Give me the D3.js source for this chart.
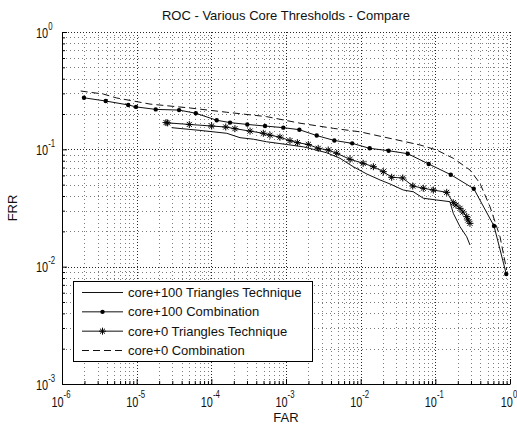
<!DOCTYPE html>
<html>
<head>
<meta charset="utf-8">
<script src="https://cdn.jsdelivr.net/npm/d3@7"></script>
<style>
  body { margin: 0; background: #fff; }
  text { font-family: "Liberation Sans", Arial, sans-serif; fill: #111; }
</style>
</head>
<body>
<div id="chart"></div>
<script>
"use strict";

// core+100 Triangles Technique (solid, no marker)
const far100Tri = [2.94e-5, 7.05e-5, 1.61e-4, 2.42e-4, 3.65e-4, 5.5e-4, 1.02e-3, 1.71e-3, 2.32e-3, 3.5e-3,
  5.28e-3, 7.96e-3, 0.0121, 0.0182, 0.0247, 0.0372, 0.0507, 0.069, 0.104, 0.157, 0.174, 0.214, 0.263, 0.291];
const frr100Tri = [0.153, 0.145, 0.137, 0.1257, 0.122, 0.116, 0.110, 0.105, 0.100, 0.0936,
  0.0839, 0.0711, 0.0616, 0.0548, 0.0507, 0.045, 0.0435, 0.0383, 0.037, 0.0358, 0.0285, 0.0219, 0.018, 0.0153];

// core+100 Combination (solid, dot marker)
const far100Comb = [1.97e-6, 3.85e-6, 7.7e-6, 9.8e-6, 1.8e-5, 3.7e-5, 6.2e-5, 1.18e-4, 1.78e-4, 3.03e-4,
  5.24e-4, 9.2e-4, 1.51e-3, 2.58e-3, 4.44e-3, 7.7e-3, 0.0132, 0.0237, 0.0427, 0.0815, 0.161, 0.327, 0.611, 0.891];
const frr100Comb = [0.275, 0.258, 0.239, 0.230, 0.219, 0.216, 0.203, 0.177, 0.169, 0.163,
  0.158, 0.153, 0.147, 0.131, 0.119, 0.1125, 0.102, 0.0973, 0.0918, 0.075, 0.0608, 0.0462, 0.0222, 0.00866];

// core+0 Triangles Technique (solid, asterisk marker)
const far0Tri = [2.47e-5, 2.6e-5, 5.07e-5, 1.01e-4, 1.56e-4, 2.07e-4, 3.3e-4, 4.97e-4, 6.1e-4, 8.3e-4,
  1.13e-3, 1.42e-3, 1.99e-3, 2.7e-3, 3.68e-3, 4.78e-3, 7.2e-3, 0.0108, 0.0148, 0.0201,
  0.026, 0.0366, 0.0498, 0.069, 0.094, 0.142, 0.174, 0.189, 0.214, 0.234, 0.263, 0.273, 0.291];
const frr0Tri = [0.169, 0.168, 0.163, 0.158, 0.155, 0.150, 0.143, 0.137, 0.132, 0.127,
  0.1186, 0.114, 0.110, 0.102, 0.0987, 0.0925, 0.0822, 0.076, 0.0711, 0.0645,
  0.0578, 0.057, 0.0487, 0.0466, 0.045, 0.043, 0.0351, 0.0335, 0.0314, 0.0292, 0.0267, 0.025, 0.0234];

// core+0 Combination (dashed, no marker)
const far0Comb = [1.78e-6, 3.57e-6, 5.4e-6, 1.51e-5, 5.2e-5, 1.61e-4, 5.5e-4, 1.54e-3, 4.3e-3, 9.8e-3,
  0.0247, 0.0622, 0.104, 0.174, 0.291, 0.396, 0.54, 0.735, 0.902];
const frr0Comb = [0.314, 0.296, 0.274, 0.243, 0.225, 0.207, 0.190, 0.167, 0.151, 0.141,
  0.124, 0.109, 0.0987, 0.0839, 0.0667, 0.0513, 0.0324, 0.018, 0.00937];

const seriesNames = ["core+100 Triangles Technique", "core+100 Combination",
  "core+0 Triangles Technique", "core+0 Combination"];
const xDecades = [-6, -5, -4, -3, -2, -1, 0];
const yDecades = [-3, -2, -1, 0];

function _main() {
  const WIDTH = 517;
  const HEIGHT = 425;
  const LEFT = 62, RIGHT = 510, TOP = 32, BOTTOM = 384;

  const svg = d3.select("#chart").append("svg").attr("width", WIDTH).attr("height", HEIGHT);

  const xScale = d3.scaleLog().domain([1e-6, 1]).range([LEFT, RIGHT]);
  const yScale = d3.scaleLog().domain([1e-3, 1]).range([BOTTOM, TOP]);

  addGrid(svg, xScale, yScale);
  addAxes(svg, xScale, yScale);

  const series = [
    { far: far100Tri, frr: frr100Tri, dash: null, marker: null },
    { far: far100Comb, frr: frr100Comb, dash: null, marker: "dot" },
    { far: far0Tri, frr: frr0Tri, dash: null, marker: "star" },
    { far: far0Comb, frr: frr0Comb, dash: "7,4", marker: null },
  ];
  series.forEach((s) => addSeries(svg, s, xScale, yScale));

  addLegend(svg, series);

  // Titles
  svg.append("text").attr("x", (LEFT + RIGHT) / 2).attr("y", 20)
    .attr("text-anchor", "middle").attr("font-size", 13)
    .text("ROC - Various Core Thresholds - Compare");
  svg.append("text").attr("x", (LEFT + RIGHT) / 2).attr("y", 422)
    .attr("text-anchor", "middle").attr("font-size", 13).text("FAR");
  svg.append("text").attr("transform", `translate(17, ${(TOP + BOTTOM) / 2}) rotate(-90)`)
    .attr("text-anchor", "middle").attr("font-size", 13).text("FRR");
}

function minorValues(decades) {
  const vals = [];
  decades.slice(0, -1).forEach((d) => {
    for (let k = 2; k <= 9; k++) vals.push(k * Math.pow(10, d));
  });
  return vals;
}

function gridLines(svg, xVals, yVals, xScale, yScale) {
  const [x0, x1] = xScale.range();
  const [y0, y1] = yScale.range();
  const g = svg.append("g").attr("shape-rendering", "crispEdges");
  g.selectAll("line.vx").data(xVals).enter().append("line").attr("class", "vx")
    .attr("x1", (d) => Math.round(xScale(d)) + 0.5).attr("x2", (d) => Math.round(xScale(d)) + 0.5)
    .attr("y1", y0).attr("y2", y1);
  g.selectAll("line.hy").data(yVals).enter().append("line").attr("class", "hy")
    .attr("y1", (d) => Math.round(yScale(d)) + 0.5).attr("y2", (d) => Math.round(yScale(d)) + 0.5)
    .attr("x1", x0).attr("x2", x1);
  return g;
}

function addGrid(svg, xScale, yScale) {
  const xMajor = xDecades.map((d) => Math.pow(10, d));
  const yMajor = yDecades.map((d) => Math.pow(10, d));

  gridLines(svg, minorValues(xDecades), minorValues(yDecades), xScale, yScale)
    .attr("stroke", "#444").attr("stroke-dasharray", "1,3").attr("opacity", 0.7);
  gridLines(svg, xMajor, yMajor, xScale, yScale)
    .attr("stroke", "#000").attr("stroke-dasharray", "1,2").attr("opacity", 0.85);
}

function addAxes(svg, xScale, yScale) {
  const xMajor = xDecades.map((d) => Math.pow(10, d));
  const yMajor = yDecades.map((d) => Math.pow(10, d));
  const [y0] = yScale.range();
  const [x0] = xScale.range();

  // Bottom axis, ticks pointing inward
  svg.append("g").attr("transform", `translate(0, ${y0})`)
    .call(d3.axisBottom(xScale).tickValues(minorValues(xDecades)).tickSize(-3).tickFormat(""))
    .call((g) => g.select(".domain").remove());
  svg.append("g").attr("transform", `translate(0, ${y0})`)
    .call(d3.axisBottom(xScale).tickValues(xMajor).tickSizeInner(-5).tickSizeOuter(0).tickFormat(""));

  // Left axis
  svg.append("g").attr("transform", `translate(${x0}, 0)`)
    .call(d3.axisLeft(yScale).tickValues(minorValues(yDecades)).tickSize(-3).tickFormat(""))
    .call((g) => g.select(".domain").remove());
  svg.append("g").attr("transform", `translate(${x0}, 0)`)
    .call(d3.axisLeft(yScale).tickValues(yMajor).tickSizeInner(-5).tickSizeOuter(0).tickFormat(""));

  svg.selectAll(".tick line, .domain").attr("stroke", "#000");

  // Tick labels as 10 with superscript exponent
  svg.selectAll("g.xlab").data(xDecades).enter().append("g")
    .attr("transform", (d) => `translate(${xScale(Math.pow(10, d)) - 1}, 407) scale(0.78, 1)`)
    .append("text").attr("text-anchor", "middle").attr("font-size", 14)
    .call((t) => {
      t.append("tspan").text("10");
      t.append("tspan").attr("font-size", 10).attr("dy", -9).text((d) => d);
    });
  svg.selectAll("g.ylab").data(yDecades).enter().append("g")
    .attr("transform", (d) => `translate(36, ${yScale(Math.pow(10, d)) + 5.5}) scale(0.78, 1)`)
    .append("text").attr("text-anchor", "start").attr("font-size", 14)
    .call((t) => {
      t.append("tspan").text("10");
      t.append("tspan").attr("font-size", 10).attr("dy", -8).text((d) => d);
    });
}

function starPath(r) {
  const q = r * 0.72;
  return `M${-r},0H${r}M0,${-r}V${r}M${-q},${-q}L${q},${q}M${-q},${q}L${q},${-q}`;
}

function addMarkers(g, points, marker) {
  if (marker === "dot") {
    g.selectAll("circle").data(points).enter().append("circle")
      .attr("cx", (d) => d[0]).attr("cy", (d) => d[1]).attr("r", 2.2).attr("fill", "#000");
  } else if (marker === "star") {
    g.selectAll("path.m").data(points).enter().append("path").attr("class", "m")
      .attr("d", starPath(3.5)).attr("transform", (d) => `translate(${d[0]},${d[1]})`)
      .attr("stroke", "#000").attr("fill", "none").attr("stroke-width", 1);
  }
}

function addSeries(svg, s, xScale, yScale) {
  const pts = s.far.map((f, i) => [xScale(f), yScale(s.frr[i])]);
  const g = svg.append("g");
  g.append("path").datum(pts).attr("d", d3.line())
    .attr("fill", "none").attr("stroke", "#111").attr("stroke-width", 1)
    .attr("stroke-dasharray", s.dash);
  addMarkers(g, pts, s.marker);
}

function addLegend(svg, series) {
  const BOX = { x: 73.5, y: 281.5, w: 239, h: 80 };
  const g = svg.append("g");
  g.append("rect").attr("x", BOX.x).attr("y", BOX.y).attr("width", BOX.w).attr("height", BOX.h)
    .attr("fill", "#fff").attr("stroke", "#000").attr("stroke-width", 1);
  const rowY = d3.scaleLinear().domain([0, 3]).range([292.5, 350.5]);
  series.forEach((s, i) => {
    const y = rowY(i);
    g.append("line").attr("x1", 82).attr("x2", 123).attr("y1", y).attr("y2", y)
      .attr("stroke", "#111").attr("stroke-width", 1).attr("stroke-dasharray", s.dash);
    const mg = g.append("g");
    addMarkers(mg, [[102.5, y]], s.marker);
    g.append("text").attr("x", 128).attr("y", y + 4.5).attr("font-size", 13).text(seriesNames[i]);
  });
}

_main();
</script>
</body>
</html>
